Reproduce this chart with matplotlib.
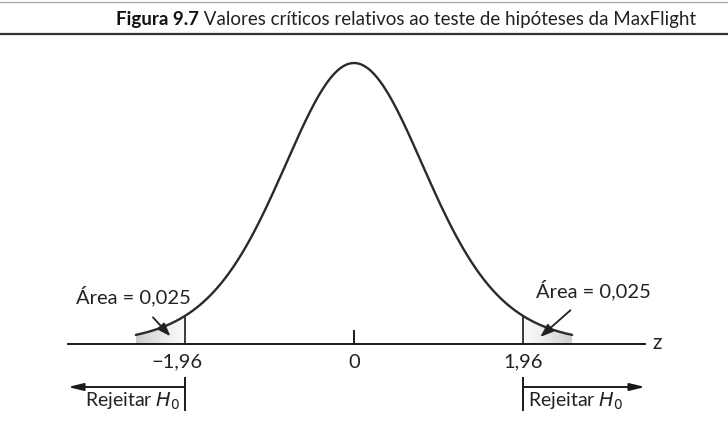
import numpy as np
import matplotlib
matplotlib.use("Agg")
import matplotlib.pyplot as plt
from matplotlib.path import Path
from matplotlib.patches import PathPatch

plt.rcParams['font.family'] = ['Lato', 'DejaVu Sans']

# dados
z_crit = [-1.96, 1.96]
area_labels = ["Área = 0,025", "Área = 0,025"]
tick_vals = [-1.96, 0, 1.96]
tick_labels = ["\u22121,96", "0", "1,96"]
z_lim = 2.53
titulo_bold = "Figura 9.7"
titulo_resto = " Valores críticos relativos ao teste de hipóteses da MaxFlight"

# forma da curva como desenhada no livro
pico = 0.3989
escala = 0.86
gl = 10

W, H = 728, 430
fig = plt.figure(figsize=(W / 100, H / 100), dpi=100)
ax = fig.add_axes([0, 0, 1, 1])

# mapeamento pixel -> dados
cx, sx = 354, 86.2
base, sy = 344, 704.4
ax.set_xlim((0 - cx) / sx, (W - cx) / sx)
ax.set_ylim((base - H) / sy, base / sy)
ax.axis('off')


def curva(z):
    return pico * (1 + (z / escala) ** 2 / gl) ** (-(gl + 1) / 2)


z = np.linspace(-z_lim, z_lim, 600)
ax.plot(z, curva(z), color='#2a2a2a', lw=1.7, solid_capstyle='round', zorder=3)

# caudas com degradê
grad = np.linspace(0, 1, 256)[None, :]
for zc in z_crit:
    if zc < 0:
        zz = np.linspace(-z_lim, zc, 100)
        g = grad[:, ::-1]
    else:
        zz = np.linspace(zc, z_lim, 100)
        g = grad
    verts = [(zz[0], 0)] + list(zip(zz, curva(zz))) + [(zz[-1], 0)]
    patch = PathPatch(Path(verts), facecolor='none', edgecolor='none')
    ax.add_patch(patch)
    im = ax.imshow(g, cmap='Greys', vmin=-0.15, vmax=3.6, aspect='auto',
                   extent=[zz[0], zz[-1], 0, curva(zc)], zorder=1)
    im.set_clip_path(patch)
    ax.plot([zc, zc], [0, curva(zc)], color='#2a2a2a', lw=1.3, zorder=3)

# eixo z
ax.plot([(68 - cx) / sx, (645 - cx) / sx], [0, 0], color='#1a1a1a', lw=1.4,
        zorder=4)
ax.text((652 - cx) / sx, 0.002, "z", fontsize=15, ha='left', va='center',
        color='#222222')
ax.plot([0, 0], [0, 0.018], color='#1a1a1a', lw=1.4)

for v, lab in zip(tick_vals, tick_labels):
    off = -0.09 if v < 0 else 0
    ax.text(v + off, -0.026, lab, fontsize=14.5, ha='center', va='center',
            color='#222222')

# rótulos de área
seta = dict(arrowstyle='-|>,head_length=0.55,head_width=0.2', color='#222222',
            lw=1.3, shrinkA=8, shrinkB=0)
ax.annotate(area_labels[0], xy=(-2.13, 0.011), xytext=(-2.56, 0.068),
            fontsize=14.5, ha='center', va='center', color='#222222',
            arrowprops=seta, zorder=5)
ax.annotate(area_labels[1], xy=(2.16, 0.010), xytext=(2.78, 0.077),
            fontsize=14.5, ha='center', va='center', color='#222222',
            arrowprops=seta, zorder=5)

# regiões de rejeição
ya = (base - 387) / sy
for zc in z_crit:
    end = (68 - cx) / sx if zc < 0 else (645 - cx) / sx
    ax.annotate("", xy=(end, ya), xytext=(zc, ya),
                arrowprops=dict(arrowstyle='-|>,head_length=0.9,head_width=0.22',
                                color='#1a1a1a', lw=1.4, shrinkA=0, shrinkB=0))
    ax.plot([zc, zc], [(base - 378) / sy, (base - 410) / sy], color='#1a1a1a',
            lw=1.4)
ax.text(-1.96 - 0.06, -0.082, r"Rejeitar $H_0$", fontsize=14, ha='right',
        va='center', color='#222222')
ax.text(1.96 + 0.06, -0.082, r"Rejeitar $H_0$", fontsize=14, ha='left',
        va='center', color='#222222')

# título
fig.add_artist(plt.Line2D([0, 1], [1 - 34 / H, 1 - 34 / H], color='#333333',
                          lw=1.6, transform=fig.transFigure))
fig.add_artist(plt.Line2D([0, 1], [1 - 1.5 / H, 1 - 1.5 / H], color='#aaaaaa',
                          lw=1.0, transform=fig.transFigure))
t1 = fig.text(116 / W, 1 - 19 / H, titulo_bold, fontsize=13.5,
              fontweight='bold', ha='left', va='center', color='#111111')
fig.canvas.draw()
bb = t1.get_window_extent(fig.canvas.get_renderer())
fig.text(bb.x1 / W, 1 - 19 / H, titulo_resto, fontsize=13.5, ha='left',
         va='center', color='#222222')

fig.savefig("out.png", dpi=100)
